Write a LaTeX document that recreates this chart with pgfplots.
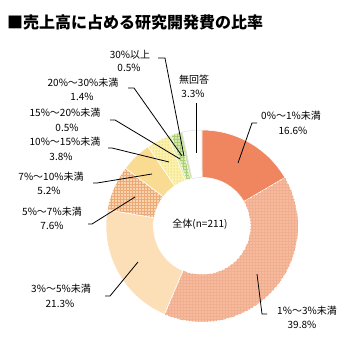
\documentclass[border=0pt]{standalone}
\usepackage{fontspec}
\setmainfont{Noto Sans CJK JP}
\usepackage{pgfplots}
\pgfplotsset{compat=1.18}
\usetikzlibrary{patterns}
\definecolor{c1}{RGB}{240,134,96}
\definecolor{c2}{RGB}{247,186,156}
\definecolor{c2p}{RGB}{241,175,145}
\definecolor{c3}{RGB}{252,223,182}
\definecolor{c4}{RGB}{250,212,172}
\definecolor{c4p}{RGB}{236,170,120}
\definecolor{c5}{RGB}{249,220,145}
\definecolor{c6}{RGB}{252,242,172}
\definecolor{c6p}{RGB}{205,185,85}
\definecolor{c7}{RGB}{232,240,170}
\definecolor{c8}{RGB}{214,234,170}
\definecolor{c8p}{RGB}{170,205,120}
\definecolor{c9}{RGB}{200,226,160}
% #1 = cumulative start (%), #2 = share (%), #3 = style
\newcommand\slice[3]{%
  \fill[#3] plot[domain=0:1, samples=60, variable=\t]
    (axis cs:{202+96*cos(90-3.6*(#1+(#2)*\t))},{-226+96*sin(90-3.6*(#1+(#2)*\t))})
    -- plot[domain=0:1, samples=60, variable=\t]
    (axis cs:{202+48.5*cos(90-3.6*(#1+(#2)*(1-\t)))},{-226+48.5*sin(90-3.6*(#1+(#2)*(1-\t)))})
    -- cycle;}
\newcommand\lbl[3]{\node[font=\fontsize{10}{12}\selectfont, inner sep=0pt] at (axis cs:#1,-#2) {#3};}
\begin{document}
\begin{tikzpicture}
\begin{axis}[hide axis, scale only axis, width=351pt, height=346pt,
  xmin=0, xmax=351, ymin=-346, ymax=0, clip=false]
\path (axis cs:0,0) (axis cs:351,-346);
% donut: shares of 0-1, 1-3, 3-5, 5-7, 7-10, 10-15, 15-20, 20-30, 30+, no answer
\slice{0}{16.6}{c1, draw=white, line width=0.6pt}
\slice{16.6}{39.8}{c2, draw=white, line width=0.6pt}
\slice{16.6}{39.8}{pattern=grid, pattern color=c2p}
\slice{56.4}{21.3}{c3, draw=white, line width=0.6pt}
\slice{77.7}{7.6}{preaction={fill=c4}, pattern=grid, pattern color=c4p, draw=white, line width=0.6pt}
\slice{85.3}{5.2}{c5, draw=white, line width=0.6pt}
\slice{90.5}{3.8}{preaction={fill=c6}, pattern=dots, pattern color=c6p, draw=white, line width=0.6pt}
\slice{94.3}{0.5}{preaction={fill=c7}, pattern=dots, pattern color=c8p, draw=white, line width=0.4pt}
\slice{94.8}{1.4}{preaction={fill=c8}, pattern=grid, pattern color=c8p, draw=white, line width=0.4pt}
\slice{96.2}{0.5}{c9, draw=white, line width=0.4pt}
\slice{96.7}{3.3}{white, draw=gray!25, line width=0.5pt}
% title
\node[anchor=west, font=\fontsize{16}{19}\selectfont\bfseries, inner sep=0pt] at (axis cs:7,-22) {■売上高に占める研究開発費の比率};
% center label
\lbl{200}{224}{全体(n=211)}
% labels
\lbl{130}{55}{30\%以上}   \lbl{129}{68}{0.5\%}
\lbl{194}{80}{無回答}     \lbl{193}{94}{3.3\%}
\lbl{83}{83}{20\%～30\%未満} \lbl{82}{97}{1.4\%}
\lbl{65}{113}{15\%～20\%未満} \lbl{67}{128}{0.5\%}
\lbl{65}{142}{10\%～15\%未満} \lbl{61}{157}{3.8\%}
\lbl{51}{177}{7\%～10\%未満} \lbl{49}{191}{5.2\%}
\lbl{52}{212}{5\%～7\%未満} \lbl{52}{226}{7.6\%}
\lbl{61}{289}{3\%～5\%未満} \lbl{60}{304}{21.3\%}
\lbl{291}{116}{0\%～1\%未満} \lbl{293}{131}{16.6\%}
\lbl{307}{311}{1\%～3\%未満} \lbl{302}{325}{39.8\%}
% leader lines
\draw[line width=0.8pt] (axis cs:158,-58) -- (axis cs:165,-58) -- (axis cs:184,-156);
\draw[line width=0.8pt] (axis cs:196,-103) -- (axis cs:196,-153);
\draw[line width=0.8pt] (axis cs:128,-88) -- (axis cs:134,-88) -- (axis cs:182,-156);
\draw[line width=0.8pt] (axis cs:110,-120) -- (axis cs:115,-120) -- (axis cs:180,-159);
\draw[line width=0.8pt] (axis cs:108,-148) -- (axis cs:112,-148) -- (axis cs:169,-162);
\draw[line width=0.8pt] (axis cs:93,-183) -- (axis cs:97,-183) -- (axis cs:152,-174);
\draw[line width=0.8pt] (axis cs:88,-224) -- (axis cs:92,-224) -- (axis cs:135,-197);
\draw[line width=0.8pt] (axis cs:105,-296) -- (axis cs:110,-296) -- (axis cs:138,-262);
\draw[line width=0.8pt] (axis cs:257,-123) -- (axis cs:252,-123) -- (axis cs:238,-163);
\draw[line width=0.8pt] (axis cs:257,-274) -- (axis cs:262,-314) -- (axis cs:267,-314);
\end{axis}
\end{tikzpicture}
\end{document}
